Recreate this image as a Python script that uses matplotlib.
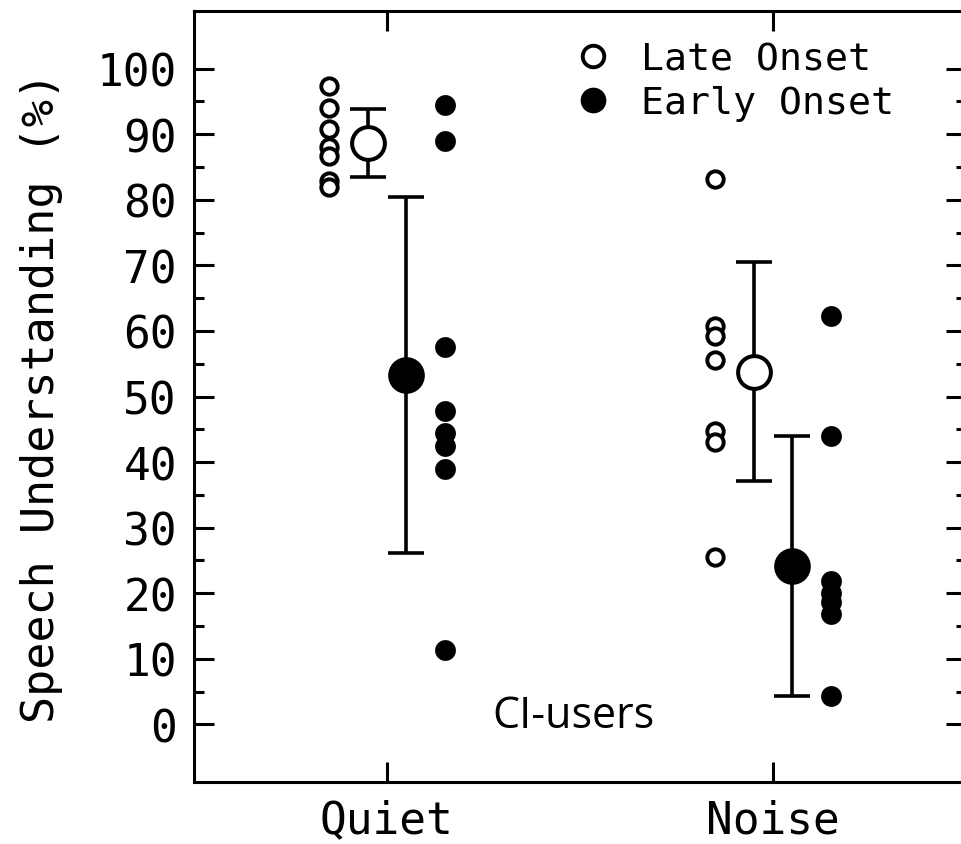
import matplotlib
matplotlib.use("Agg")
import matplotlib.pyplot as plt
from matplotlib.lines import Line2D
from matplotlib.ticker import FixedLocator
import numpy as np

# ---------------- data ----------------
categories = ["Quiet", "Noise"]
late_quiet = [97.4, 94.0, 90.8, 88.0, 86.7, 82.8, 81.9]
early_quiet = [94.5, 88.9, 57.6, 47.8, 44.4, 42.4, 38.9, 11.3]
late_noise = [83.1, 60.8, 59.3, 55.6, 44.7, 43.1, 25.5]
early_noise = [62.3, 43.9, 21.9, 20.1, 18.6, 16.8, 4.3]
late_mean = [88.7, 53.8]
late_sd = [5.2, 16.7]
early_mean = [53.3, 24.1]
early_sd = [27.1, 19.8]
legend_labels = ["Late Onset", "Early Onset"]
ytick_values = list(range(0, 101, 10))
annotation = "CI-users"

# ---------------- layout ----------------
W, H, DPI = 961, 845, 100
fig = plt.figure(figsize=(W / DPI, H / DPI), dpi=DPI)
ax_l, ax_r, ax_t, ax_b = 193.5, 965.5, 12, 783
ax = fig.add_axes([ax_l / W, 1 - ax_b / H, (ax_r - ax_l) / W, (ax_b - ax_t) / H])

MONO = "DejaVu Sans Mono"
off_ind_late, off_mean_late, off_mean_early, off_ind_early = -0.15, -0.048, 0.05, 0.152
lw = 2.6

xpos = np.arange(1, len(categories) + 1)
for i, (lv, ev) in enumerate([(late_quiet, early_quiet), (late_noise, early_noise)]):
    ax.plot(np.full(len(lv), xpos[i] + off_ind_late), lv, linestyle="none", marker="o",
            ms=11.8, mew=2.8, mfc="white", mec="black", zorder=4)
    ax.plot(np.full(len(ev), xpos[i] + off_ind_early), ev, linestyle="none", marker="o",
            ms=15, mew=0, mfc="black", zorder=4)

ax.errorbar(xpos + off_mean_late, late_mean, yerr=late_sd, fmt="none", ecolor="black",
            elinewidth=lw, capsize=12.7, capthick=lw, zorder=3)
ax.errorbar(xpos + off_mean_early, early_mean, yerr=early_sd, fmt="none", ecolor="black",
            elinewidth=lw, capsize=12.7, capthick=lw, zorder=3)
ax.plot(xpos + off_mean_late, late_mean, linestyle="none", marker="o", ms=23.6, mew=2.9,
        mfc="white", mec="black", zorder=5)
ax.plot(xpos + off_mean_early, early_mean, linestyle="none", marker="o", ms=26.4, mew=0,
        mfc="black", zorder=5)

ax.set_xlim(0.5, 2.5)
ax.set_ylim(-8.8, 108.8)
ax.set_xticks(xpos)
ax.set_xticklabels(categories, fontfamily=MONO, fontsize=32)
ax.yaxis.set_major_locator(FixedLocator(ytick_values))
ax.yaxis.set_minor_locator(FixedLocator([v + 5 for v in ytick_values[:-1]]))
ax.set_yticklabels([str(v) for v in ytick_values], fontfamily=MONO, fontsize=32)

for s in ax.spines.values():
    s.set_linewidth(2.2)
    s.set_color("black")
ax.tick_params(which="both", direction="in", top=True, right=True, width=2.2, color="black")
ax.tick_params(which="major", length=14.4)
ax.tick_params(which="minor", length=7.2)
ax.tick_params(axis="y", pad=12)
ax.tick_params(axis="x", pad=12)

ax.set_ylabel("Speech Understanding (%)", fontfamily=MONO, fontsize=32.5, va="center")
ax.yaxis.set_label_coords((42 - ax_l) / (ax_r - ax_l), 0.5)

handles = [Line2D([], [], linestyle="none", marker="o", ms=15.5, mew=2.8, mfc="white", mec="black"),
           Line2D([], [], linestyle="none", marker="o", ms=18.5, mew=0, mfc="black")]
leg = ax.legend(handles, legend_labels, loc="upper left",
                bbox_to_anchor=((574.25 - ax_l) / (ax_r - ax_l), (ax_b - 42) / (ax_b - ax_t)),
                frameon=False, borderpad=0, borderaxespad=0, handlelength=1.0,
                handletextpad=0.75, labelspacing=0.22, prop={"family": MONO, "size": 27.5})

ax.text((573.5 - ax_l) / (ax_r - ax_l), (ax_b - 728) / (ax_b - ax_t), annotation,
        transform=ax.transAxes, ha="center", va="baseline", fontfamily="Open Sans", fontsize=31)

fig.savefig("out.png", dpi=DPI)
